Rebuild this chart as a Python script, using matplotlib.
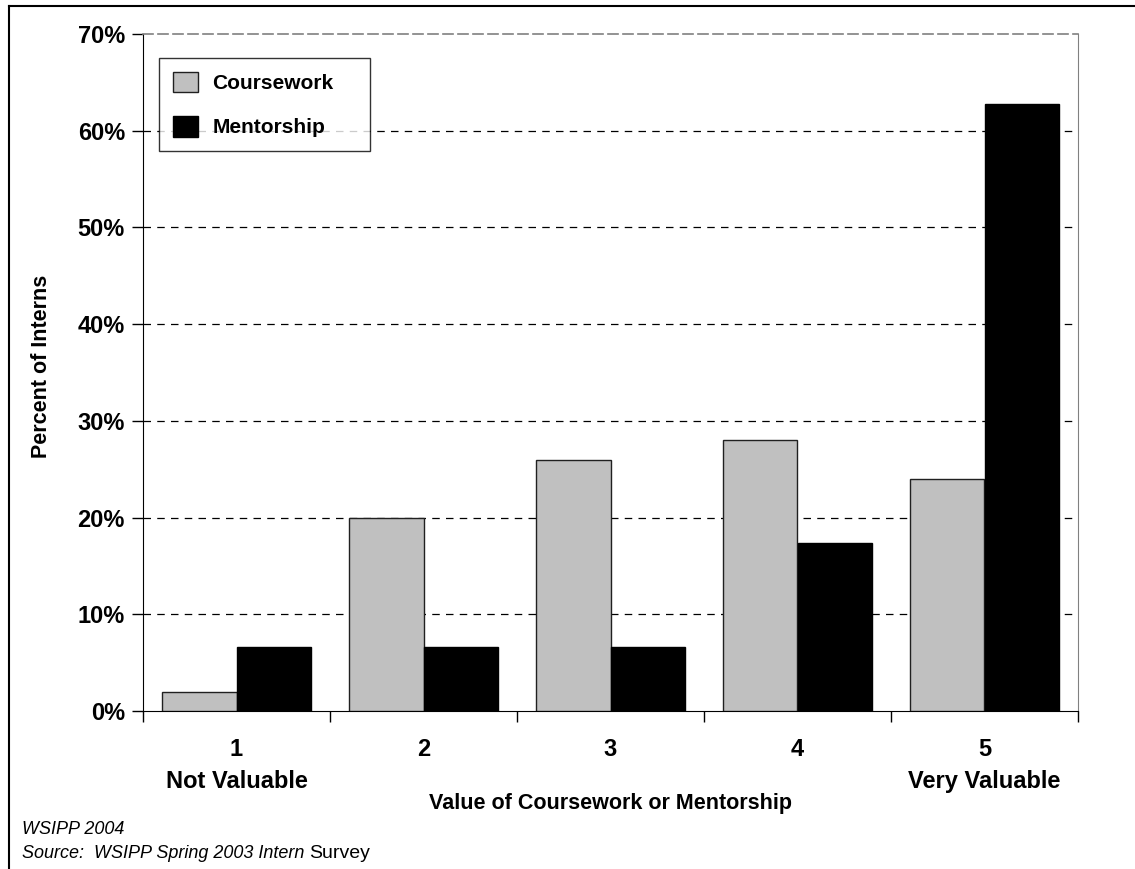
import matplotlib.pyplot as plt
import numpy as np
from matplotlib.lines import Line2D
from matplotlib.ticker import FuncFormatter, MultipleLocator

plt.rcParams["font.family"] = ["Liberation Sans", "DejaVu Sans"]

ratings = ["1", "2", "3", "4", "5"]
rating_notes = ["Not Valuable", "", "", "", "Very Valuable"]
coursework = [2.0, 20.0, 26.0, 28.0, 24.0]
mentorship = [6.6, 6.6, 6.6, 17.4, 62.8]

W, H = 1135, 869
fig = plt.figure(figsize=(W / 100, H / 100), dpi=100)
ax = fig.add_axes([143 / W, 1 - 711 / H, (1078 - 143) / W, (711 - 34) / H])

x = np.arange(len(ratings))
w = 0.4
ax.bar(x - w / 2, coursework, w, color="#c0c0c0", edgecolor="#202020", linewidth=1.0,
       label="Coursework", zorder=3)
ax.bar(x + w / 2, mentorship, w, color="black", edgecolor="black", linewidth=1.0,
       label="Mentorship", zorder=3)

ax.set_xlim(-0.5, len(ratings) - 0.5)
ax.set_ylim(0, 70)
ax.yaxis.set_major_locator(MultipleLocator(10))
ax.yaxis.set_major_formatter(FuncFormatter(lambda v, _: f"{v:.0f}%"))
for v in range(10, 70, 10):
    ax.axhline(v, color="black", linestyle=(0, (6, 5)), linewidth=0.9, zorder=1)

# category labels sit under the groups, tick marks sit between them
ax.set_xticks(np.arange(-0.5, len(ratings), 1.0))
ax.set_xticklabels([])
ax.tick_params(axis="x", direction="out", length=8, width=1)
ax.tick_params(axis="y", direction="out", length=8, width=1, labelsize=17, pad=5)
for lab in ax.get_yticklabels():
    lab.set_fontweight("bold")
for i, (r, note) in enumerate(zip(ratings, rating_notes)):
    ax.text(i, -3.95, r, ha="center", va="center", fontsize=17, fontweight="bold")
    if note:
        ax.text(i, -7.25, note, ha="center", va="center", fontsize=17, fontweight="bold")

ax.spines["left"].set_color("black")
ax.spines["bottom"].set_color("black")
ax.spines["right"].set_color("#808080")
ax.spines["top"].set_color("#808080")
ax.spines["top"].set_linestyle((0, (6, 3)))
ax.spines["top"].set_linewidth(1.2)

fig.text(42 / W, 1 - 366 / H, "Percent of Interns", rotation=90, ha="center", va="center",
         fontsize=15.5, fontweight="bold")
ax.text(2, -9.6, "Value of Coursework or Mentorship", ha="center", va="center",
        fontsize=15.5, fontweight="bold")

leg = ax.legend(loc="upper left", mode="expand",
                bbox_to_anchor=(16 / 935, 1 - 24 / 677 - 94 / 677, 211 / 935, 94 / 677),
                fontsize=15, frameon=True, fancybox=False, edgecolor="black",
                borderpad=0.65, labelspacing=1.1, handlelength=1.2, handleheight=1.15,
                handletextpad=0.7, borderaxespad=0)
leg.get_frame().set_linewidth(1.0)
for t in leg.get_texts():
    t.set_fontweight("bold")

fig.text(22 / W, 1 - 830 / H, "WSIPP 2004", fontsize=13, style="italic", va="center")
src = fig.text(22 / W, 1 - 862 / H, "Source:  WSIPP Spring 2003 Intern ",
               fontsize=13, style="italic", va="bottom")
# last word of the source line is set upright and a little larger
ax.annotate("Survey", xy=(1, 0), xycoords=src, ha="left", va="bottom", fontsize=14,
            annotation_clip=False)

# page frame along the left and top edges
fig.add_artist(Line2D([9 / W, 9 / W], [0, 1 - 6 / H], color="black", linewidth=1.5,
                      transform=fig.transFigure))
fig.add_artist(Line2D([9 / W, 1], [1 - 6 / H, 1 - 6 / H], color="black", linewidth=1.5,
                      transform=fig.transFigure))

fig.savefig("out.png", dpi=100)
